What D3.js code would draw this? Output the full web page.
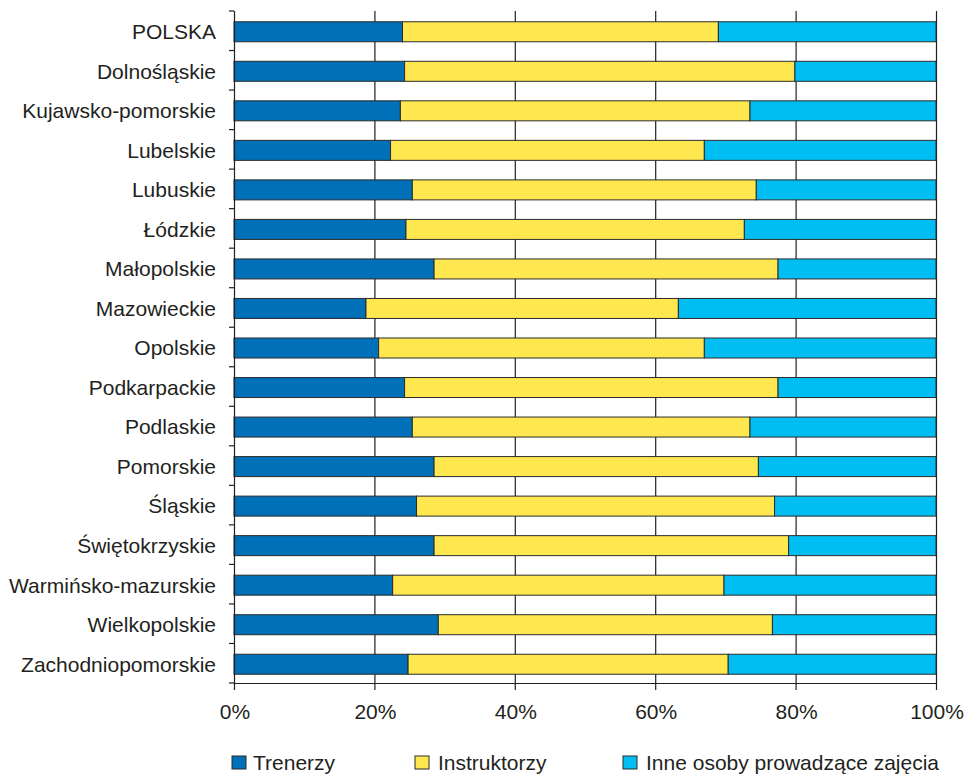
<!DOCTYPE html>
<html>
<head>
<meta charset="utf-8">
<script src="https://cdn.jsdelivr.net/npm/d3@7/dist/d3.min.js"></script>
<style>
  html, body { margin: 0; padding: 0; background: #fff; }
  svg text { font-family: "Liberation Sans", Arial, Helvetica, sans-serif; fill: #231f20; }
</style>
</head>
<body>
<svg id="chart" width="975" height="775"></svg>
<script>
const categories = ["POLSKA","Dolnośląskie","Kujawsko-pomorskie","Lubelskie","Lubuskie","Łódzkie","Małopolskie","Mazowieckie","Opolskie","Podkarpackie","Podlaskie","Pomorskie","Śląskie","Świętokrzyskie","Warmińsko-mazurskie","Wielkopolskie","Zachodniopomorskie"];
const trenerzy     = [24.0, 24.3, 23.7, 22.3, 25.4, 24.5, 28.5, 18.8, 20.6, 24.3, 25.4, 28.5, 26.0, 28.5, 22.6, 29.1, 24.8];
const instruktorzy = [45.0, 55.6, 49.8, 44.7, 49.0, 48.2, 49.0, 44.5, 46.4, 53.2, 48.1, 46.2, 51.0, 50.5, 47.2, 47.6, 45.6];
const inne         = [31.0, 20.1, 26.5, 33.0, 25.6, 27.3, 22.5, 36.7, 33.0, 22.5, 26.5, 25.3, 23.0, 21.0, 30.2, 23.3, 29.6];
const seriesNames  = ["Trenerzy", "Instruktorzy", "Inne osoby prowadzące zajęcia"];
const seriesColors = ["#0070b8", "#ffe74f", "#00bef2"];
const xTicks = [0, 20, 40, 60, 80, 100];
const xTickLabels = ["0%", "20%", "40%", "60%", "80%", "100%"];

const rows = categories.map((c, i) => ({cat: c, Trenerzy: trenerzy[i], Instruktorzy: instruktorzy[i], "Inne osoby prowadzące zajęcia": inne[i]}));

const svg = d3.select("#chart");
const mLeft = 234, mRight = 936, mTop = 11, mBottom = 683;
const fs = 21;

const x = d3.scaleLinear().domain([0, 100]).range([mLeft, mRight]);
const y = d3.scaleBand().domain(categories).range([mTop, mBottom]).paddingInner(0.494).paddingOuter(0.247);
const color = d3.scaleOrdinal().domain(seriesNames).range(seriesColors);

// gridlines
svg.append("g").selectAll("line").data(xTicks.slice(1)).join("line")
  .attr("x1", d => x(d) + 0.5).attr("x2", d => x(d) + 0.5)
  .attr("y1", mTop).attr("y2", mBottom)
  .attr("stroke", "#231f20").attr("stroke-width", 1.2);

// bars
const stack = d3.stack().keys(seriesNames)(rows);
svg.append("g").selectAll("g").data(stack).join("g")
  .attr("fill", d => color(d.key))
  .selectAll("rect").data(d => d).join("rect")
  .attr("x", d => x(d[0]))
  .attr("width", d => x(d[1]) - x(d[0]))
  .attr("y", d => y(d.data.cat) + 1)
  .attr("height", y.bandwidth())
  .attr("stroke", "#2b2b2b").attr("stroke-width", 1);

// left axis
const yAxisG = svg.append("g");
yAxisG.append("line").attr("x1", mLeft + 0.5).attr("x2", mLeft + 0.5).attr("y1", mTop).attr("y2", mBottom)
  .attr("stroke", "#231f20").attr("stroke-width", 1.2);
const boundaries = categories.map(c => y(c) - y.step() * y.paddingInner() / 2).concat([mBottom]);
yAxisG.selectAll("line.tick").data(boundaries).join("line").attr("class", "tick")
  .attr("x1", mLeft - 5).attr("x2", mLeft)
  .attr("y1", d => d).attr("y2", d => d)
  .attr("stroke", "#231f20").attr("stroke-width", 1.2);
yAxisG.selectAll("text").data(categories).join("text")
  .attr("x", 216)
  .attr("y", d => y(d) + y.bandwidth() / 2 + 1)
  .attr("dy", "0.35em")
  .attr("text-anchor", "end")
  .attr("font-size", fs)
  .text(d => d);

// bottom axis
const xAxisG = svg.append("g");
xAxisG.append("line").attr("x1", mLeft).attr("x2", mRight + 0.5).attr("y1", mBottom + 0.5).attr("y2", mBottom + 0.5)
  .attr("stroke", "#231f20").attr("stroke-width", 1.2);
xAxisG.selectAll("line.tick").data(xTicks).join("line").attr("class", "tick")
  .attr("x1", d => x(d) + 0.5).attr("x2", d => x(d) + 0.5)
  .attr("y1", mBottom).attr("y2", mBottom + 7)
  .attr("stroke", "#231f20").attr("stroke-width", 1.2);
xAxisG.selectAll("text").data(xTicks).join("text")
  .attr("x", d => x(d) + 1)
  .attr("y", mBottom + 29)
  .attr("dy", "0.35em")
  .attr("text-anchor", "middle")
  .attr("font-size", fs)
  .text((d, i) => xTickLabels[i]);

// legend
const legendX = [232, 415, 623];
const legendTextDx = [21, 23, 23];
const lg = svg.append("g").selectAll("g").data(seriesNames).join("g")
  .attr("transform", (d, i) => `translate(${legendX[i]},756)`);
lg.append("rect").attr("width", 14).attr("height", 13)
  .attr("fill", d => color(d)).attr("stroke", "#2b2b2b").attr("stroke-width", 1);
lg.append("text").attr("x", (d, i) => legendTextDx[i]).attr("y", 7).attr("dy", "0.35em")
  .attr("font-size", fs).text(d => d);
</script>
</body>
</html>
